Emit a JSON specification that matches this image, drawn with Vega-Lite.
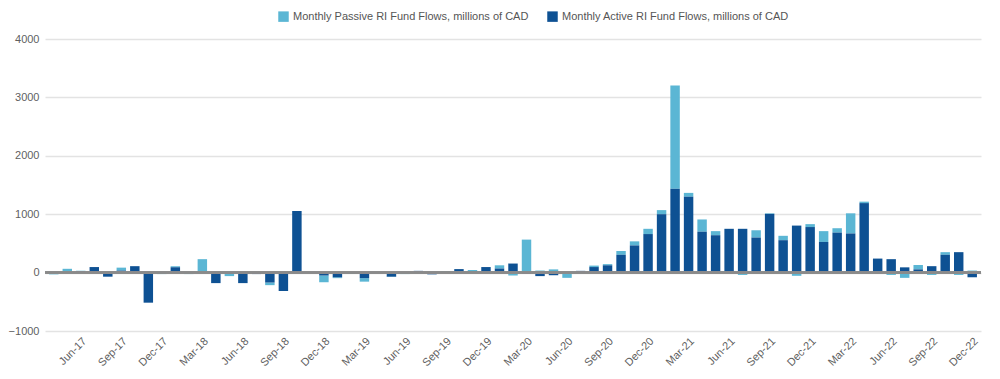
{
  "$schema": "https://vega.github.io/schema/vega-lite/v6.json",
  "width": 936,
  "height": 292,
  "autosize": "none",
  "padding": {"left": 45, "top": 39, "right": 19, "bottom": 48},
  "background": "white",
  "config": {
    "view": {"stroke": null},
    "font": "Liberation Sans"
  },
  "data": {
    "values": [
      {"m": "Apr-17", "passive": -25, "active": -5},
      {"m": "May-17", "passive": 60, "active": 5},
      {"m": "Jun-17", "passive": 5, "active": 25},
      {"m": "Jul-17", "passive": 0, "active": 95},
      {"m": "Aug-17", "passive": 0, "active": -70},
      {"m": "Sep-17", "passive": 50, "active": 35},
      {"m": "Oct-17", "passive": 0, "active": 110},
      {"m": "Nov-17", "passive": 15, "active": -515},
      {"m": "Dec-17", "passive": -25, "active": 0},
      {"m": "Jan-18", "passive": 20, "active": 90},
      {"m": "Feb-18", "passive": -25, "active": 5},
      {"m": "Mar-18", "passive": 215, "active": 15},
      {"m": "Apr-18", "passive": 0, "active": -180},
      {"m": "May-18", "passive": -40, "active": -20},
      {"m": "Jun-18", "passive": 0, "active": -180},
      {"m": "Jul-18", "passive": 0, "active": -25},
      {"m": "Aug-18", "passive": -45, "active": -170},
      {"m": "Sep-18", "passive": 0, "active": -315},
      {"m": "Oct-18", "passive": 0, "active": 1055},
      {"m": "Nov-18", "passive": -10, "active": 0},
      {"m": "Dec-18", "passive": -115, "active": -50},
      {"m": "Jan-19", "passive": -15, "active": -80},
      {"m": "Feb-19", "passive": -20, "active": 0},
      {"m": "Mar-19", "passive": -60, "active": -95},
      {"m": "Apr-19", "passive": 0, "active": -5},
      {"m": "May-19", "passive": -5, "active": -70},
      {"m": "Jun-19", "passive": -25, "active": 0},
      {"m": "Jul-19", "passive": 0, "active": 30},
      {"m": "Aug-19", "passive": 0, "active": -30},
      {"m": "Sep-19", "passive": 25, "active": 0},
      {"m": "Oct-19", "passive": 0, "active": 60},
      {"m": "Nov-19", "passive": 25, "active": 20},
      {"m": "Dec-19", "passive": 0, "active": 95},
      {"m": "Jan-20", "passive": 55, "active": 70},
      {"m": "Feb-20", "passive": -50, "active": 155},
      {"m": "Mar-20", "passive": 565, "active": -20},
      {"m": "Apr-20", "passive": 35, "active": -60},
      {"m": "May-20", "passive": 55, "active": -45},
      {"m": "Jun-20", "passive": -85, "active": -5},
      {"m": "Jul-20", "passive": 0, "active": 30},
      {"m": "Aug-20", "passive": 25, "active": 95},
      {"m": "Sep-20", "passive": 20, "active": 125},
      {"m": "Oct-20", "passive": 65, "active": 305},
      {"m": "Nov-20", "passive": 70, "active": 465},
      {"m": "Dec-20", "passive": 90, "active": 660},
      {"m": "Jan-21", "passive": 70, "active": 1000},
      {"m": "Feb-21", "passive": 1770, "active": 1435},
      {"m": "Mar-21", "passive": 65, "active": 1300},
      {"m": "Apr-21", "passive": 210, "active": 700},
      {"m": "May-21", "passive": 70, "active": 640},
      {"m": "Jun-21", "passive": 0, "active": 750},
      {"m": "Jul-21", "passive": -40, "active": 750},
      {"m": "Aug-21", "passive": 125, "active": 600},
      {"m": "Sep-21", "passive": 10, "active": 1005},
      {"m": "Oct-21", "passive": 75, "active": 555},
      {"m": "Nov-21", "passive": -55, "active": 805},
      {"m": "Dec-21", "passive": 50, "active": 780},
      {"m": "Jan-22", "passive": 185, "active": 525},
      {"m": "Feb-22", "passive": 75, "active": 685},
      {"m": "Mar-22", "passive": 345, "active": 670},
      {"m": "Apr-22", "passive": 25, "active": 1190},
      {"m": "May-22", "passive": 0, "active": 240},
      {"m": "Jun-22", "passive": -40, "active": 230},
      {"m": "Jul-22", "passive": -90, "active": 90},
      {"m": "Aug-22", "passive": 75, "active": 55},
      {"m": "Sep-22", "passive": -40, "active": 110},
      {"m": "Oct-22", "passive": 45, "active": 305},
      {"m": "Nov-22", "passive": -40, "active": 350},
      {"m": "Dec-22", "passive": 35, "active": -80}
    ]
  },
  "transform": [{"fold": ["passive", "active"], "as": ["key", "value"]}],
  "layer": [
    {
      "mark": {"type": "bar"},
      "encoding": {
        "x": {
          "field": "m",
          "type": "ordinal",
          "sort": null,
          "scale": {"paddingInner": 0.3, "paddingOuter": 0.3},
          "axis": {
            "title": null,
            "domain": false,
            "ticks": false,
            "labelAngle": -45,
            "labelAlign": "right",
            "labelBaseline": "top",
            "labelPadding": 4,
            "labelFont": "Liberation Sans",
            "labelFontSize": 11,
            "labelColor": "#5f5f5f",
            "values": ["Jun-17","Sep-17","Dec-17","Mar-18","Jun-18","Sep-18","Dec-18","Mar-19","Jun-19","Sep-19","Dec-19","Mar-20","Jun-20","Sep-20","Dec-20","Mar-21","Jun-21","Sep-21","Dec-21","Mar-22","Jun-22","Sep-22","Dec-22"]
          }
        },
        "y": {
          "field": "value",
          "type": "quantitative",
          "stack": "zero",
          "scale": {"domain": [-1000, 4000], "nice": false},
          "axis": {
            "title": null,
            "values": [-1000, 0, 1000, 2000, 3000, 4000],
            "format": "d",
            "domain": false,
            "ticks": false,
            "labelPadding": 6,
            "labelFont": "Liberation Sans",
            "labelFontSize": 11,
            "labelColor": "#5f5f5f",
            "gridColor": "#e3e3e3",
            "gridWidth": 1.5
          }
        },
        "color": {
          "field": "key",
          "type": "nominal",
          "scale": {"domain": ["passive", "active"], "range": ["#5bb6d4", "#0e5193"]},
          "legend": {
            "title": null,
            "orient": "none",
            "direction": "horizontal",
            "legendX": 233,
            "legendY": -28,
            "symbolType": "square",
            "symbolSize": 110,
            "symbolStrokeWidth": 0,
            "labelFontSize": 11,
            "labelColor": "#555555",
            "labelFont": "Liberation Sans",
            "columnPadding": 18,
            "labelLimit": 400,
            "labelExpr": "datum.label == 'passive' ? 'Monthly Passive RI Fund Flows, millions of CAD' : 'Monthly Active RI Fund Flows, millions of CAD'"
          }
        },
        "order": {"field": "key", "type": "nominal", "sort": "ascending"}
      }
    },
    {
      "mark": {"type": "rule", "color": "#8a8a8a", "strokeWidth": 1.5},
      "encoding": {"y": {"datum": 0}}
    }
  ]
}
